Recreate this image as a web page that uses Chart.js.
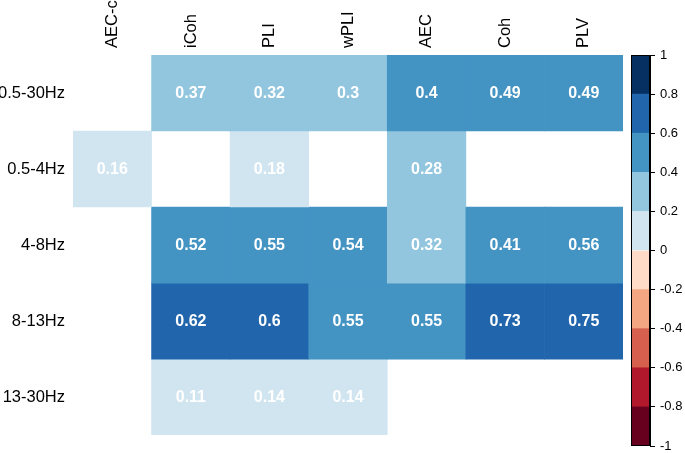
<!DOCTYPE html>
<html>
<head>
<meta charset="utf-8">
<script src="https://cdn.jsdelivr.net/npm/chart.js@4.4.0/dist/chart.umd.min.js"></script>
<style>
  body { margin: 0; background: #fff; }
  #wrap { position: relative; width: 685px; height: 453px; }
  #heat { position: absolute; left: 0; top: 0; }
  #bar { position: absolute; left: 600px; top: 0; }
</style>
</head>
<body>
<div id="wrap">
  <canvas id="heat" width="685" height="453"></canvas>
  <canvas id="bar" width="85" height="453"></canvas>
</div>
<script>
var methods = ["AEC-c", "iCoh", "PLI", "wPLI", "AEC", "Coh", "PLV"];
var bands = ["0.5-30Hz", "0.5-4Hz", "4-8Hz", "8-13Hz", "13-30Hz"];

// null = cell left blank
var band0530 = [null, 0.37, 0.32, 0.3, 0.4, 0.49, 0.49];
var band0504 = [0.16, null, 0.18, null, 0.28, null, null];
var band0408 = [null, 0.52, 0.55, 0.54, 0.32, 0.41, 0.56];
var band0813 = [null, 0.62, 0.6, 0.55, 0.55, 0.73, 0.75];
var band1330 = [null, 0.11, 0.14, 0.14, null, null, null];
var values = [band0530, band0504, band0408, band0813, band1330];

var legendTicks = [-1, -0.8, -0.6, -0.4, -0.2, 0, 0.2, 0.4, 0.6, 0.8, 1];
var palette = ["#67001F", "#B2182B", "#D6604D", "#F4A582", "#FDDBC7",
               "#D1E5F0", "#92C5DE", "#4393C3", "#2166AC", "#053061"];

var FONT = "'Liberation Sans', Arial, sans-serif";
Chart.defaults.color = "#000";
Chart.defaults.font.family = FONT;

function colourFor(v){
    var i = Math.floor((v + 1) / 0.2 + 1e-9);
    if (i > 9) i = 9;
    if (i < 0) i = 0;
    return palette[i];
}

// one floating-bar dataset per row, rows overlap (grouped: false)
var heatSets = [];
for (var r = 0; r < bands.length; r++){
    var rowData = [], rowCols = [];
    for (var c = 0; c < methods.length; c++){
        var v = values[r][c];
        rowData.push(v == null ? null : [r, r + 1]);
        rowCols.push(v == null ? "rgba(0,0,0,0)" : colourFor(v));
    }
    heatSets.push({
        label: bands[r],
        data: rowData,
        values: values[r],
        backgroundColor: rowCols,
        borderWidth: 0,
        grouped: false,
        barPercentage: 1,
        categoryPercentage: 1
    });
}

var cellLabels = {
    id: "cellLabels",
    afterDatasetsDraw: function(chart){
        var ctx = chart.ctx;
        ctx.save();
        ctx.fillStyle = "#fff";
        ctx.font = "bold 16px " + FONT;
        ctx.textAlign = "center";
        ctx.textBaseline = "middle";
        chart.data.datasets.forEach(function(ds, i){
            var meta = chart.getDatasetMeta(i);
            meta.data.forEach(function(el, j){
                var v = ds.values[j];
                if (v == null) return;
                var p = el.getProps(["x", "y", "base"], true);
                ctx.fillText(String(v), p.x, (p.y + p.base) / 2 + 1);
            });
        });
        ctx.restore();
    }
};

new Chart(document.getElementById("heat"), {
    type: "bar",
    data: { labels: methods, datasets: heatSets },
    options: {
        responsive: false,
        animation: false,
        layout: { padding: { left: 0, right: 62, top: 0, bottom: 8 } },
        plugins: { legend: { display: false }, tooltip: { enabled: false } },
        scales: {
            x: {
                position: "top",
                grid: { display: false, drawTicks: false },
                border: { display: false },
                ticks: { minRotation: 90, maxRotation: 90, autoSkip: false, padding: 7,
                         labelOffset: 20, font: { size: 16.5 } },
                afterFit: function(scale){ scale.height = 55; }
            },
            y: {
                min: 0,
                max: 5,
                reverse: true,
                grid: { display: false, drawTicks: false },
                border: { display: false },
                afterBuildTicks: function(scale){
                    scale.ticks = bands.map(function(b, i){ return { value: i + 0.5 }; });
                },
                ticks: {
                    padding: 8,
                    font: { size: 16.5 },
                    callback: function(value, index){ return bands[index]; }
                },
                afterFit: function(scale){ scale.width = 73; }
            }
        }
    },
    plugins: [cellLabels]
});

// colour key
var keySets = [];
for (var k = 0; k < palette.length; k++){
    keySets.push({
        data: [[legendTicks[k], legendTicks[k + 1]]],
        backgroundColor: palette[k],
        borderWidth: 0,
        grouped: false,
        barPercentage: 1,
        categoryPercentage: 1
    });
}

var keyFrame = {
    id: "keyFrame",
    afterDatasetsDraw: function(chart){
        var a = chart.chartArea, ctx = chart.ctx;
        ctx.save();
        ctx.strokeStyle = "#000";
        ctx.lineWidth = 1;
        ctx.strokeRect(Math.round(a.left) + 0.5, Math.round(a.top) + 0.5,
                       Math.round(a.right - a.left) - 1, Math.round(a.bottom - a.top) - 1);
        ctx.restore();
    }
};

new Chart(document.getElementById("bar"), {
    type: "bar",
    data: { labels: [""], datasets: keySets },
    options: {
        responsive: false,
        animation: false,
        layout: { padding: { left: 31, right: 0, top: 55, bottom: 7 } },
        plugins: { legend: { display: false }, tooltip: { enabled: false } },
        scales: {
            x: { display: false },
            y: {
                position: "right",
                min: -1,
                max: 1,
                grid: { drawOnChartArea: false, drawTicks: true, tickLength: 5, color: "#000" },
                border: { display: true, color: "#000" },
                ticks: {
                    stepSize: 0.2,
                    padding: 5,
                    font: { size: 13 },
                    callback: function(v){ return String(Number(v.toFixed(1))); }
                },
                afterFit: function(scale){
                    scale.width = 35;
                    scale.paddingTop = 0;
                    scale.paddingBottom = 0;
                }
            }
        }
    },
    plugins: [keyFrame]
});
</script>
</body>
</html>
